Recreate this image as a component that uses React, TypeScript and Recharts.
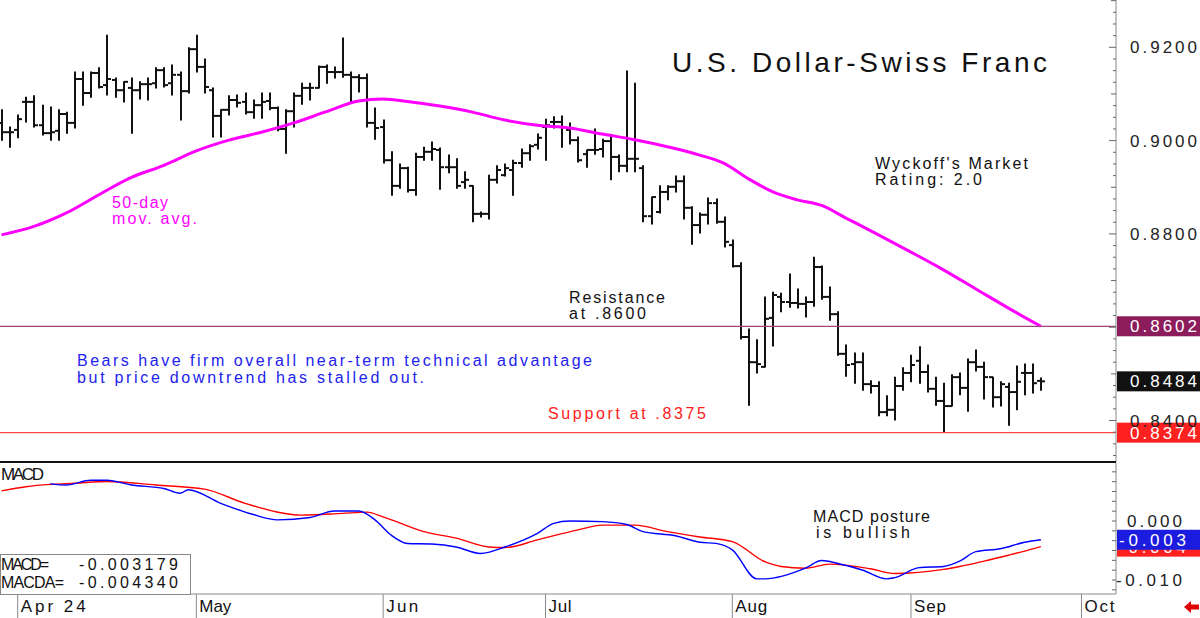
import React from "react";
import { ComposedChart, Bar, Line, XAxis, YAxis, ReferenceLine } from "recharts";

const FONT = "'Liberation Sans', Arial, sans-serif";

// USD/CHF daily bars, end of March to late September 2024 (index = session)
const opens = [
  0.9038, 0.9018, 0.9023, 0.9083, 0.9083, 0.9033, 0.9016, 0.9021, 0.9057, 0.9038,
  0.9132, 0.9102, 0.9145, 0.9119, 0.9130, 0.9108, 0.9113, 0.9108, 0.9121, 0.9123,
  0.9151, 0.9123, 0.9141, 0.9106, 0.9196, 0.9158, 0.9108, 0.9053, 0.9066, 0.9087,
  0.9083, 0.9061, 0.9076, 0.9085, 0.9070, 0.9025, 0.9063, 0.9096, 0.9113, 0.9113,
  0.9158, 0.9147, 0.9147, 0.9141, 0.9136, 0.9134, 0.9038, 0.9029, 0.8958, 0.8903,
  0.8941, 0.8894, 0.8965, 0.8976, 0.8980, 0.8943, 0.8943, 0.8911, 0.8903, 0.8843,
  0.8843, 0.8916, 0.8926, 0.8937, 0.8952, 0.8973, 0.8991, 0.9029, 0.9040, 0.9040,
  0.9023, 0.9001, 0.8971, 0.8980, 0.8982, 0.8999, 0.8965, 0.8946, 0.8961, 0.8941,
  0.8838, 0.8847, 0.8890, 0.8901, 0.8913, 0.8856, 0.8819, 0.8841, 0.8866, 0.8826,
  0.8776, 0.8731, 0.8579, 0.8525, 0.8515, 0.8620, 0.8665, 0.8654, 0.8652, 0.8650,
  0.8654, 0.8729, 0.8665, 0.8628, 0.8543, 0.8521, 0.8525, 0.8478, 0.8474, 0.8418,
  0.8423, 0.8474, 0.8502, 0.8528, 0.8504, 0.8468, 0.8442, 0.8431, 0.8493, 0.8470,
  0.8525, 0.8515, 0.8493, 0.8450, 0.8472, 0.8461, 0.8502, 0.8502, 0.8485,
];
const highs = [
  0.9066, 0.9029, 0.9055, 0.9093, 0.9096, 0.9076, 0.9072, 0.9066, 0.9061, 0.9147,
  0.9147, 0.9147, 0.9156, 0.9226, 0.9134, 0.9126, 0.9134, 0.9126, 0.9134, 0.9156,
  0.9156, 0.9162, 0.9147, 0.9199, 0.9226, 0.9175, 0.9113, 0.9066, 0.9096, 0.9098,
  0.9102, 0.9087, 0.9102, 0.9102, 0.9072, 0.9066, 0.9102, 0.9123, 0.9123, 0.9160,
  0.9162, 0.9158, 0.9220, 0.9147, 0.9141, 0.9143, 0.9070, 0.9044, 0.8976, 0.8950,
  0.8943, 0.8973, 0.8986, 0.8997, 0.8984, 0.8969, 0.8961, 0.8933, 0.8903, 0.8847,
  0.8926, 0.8946, 0.8950, 0.8958, 0.8982, 0.8991, 0.9014, 0.9046, 0.9051, 0.9053,
  0.9038, 0.9008, 0.8980, 0.9025, 0.9003, 0.9012, 0.8969, 0.9149, 0.9123, 0.8946,
  0.8879, 0.8903, 0.8903, 0.8924, 0.8924, 0.8858, 0.8845, 0.8877, 0.8875, 0.8836,
  0.8787, 0.8738, 0.8596, 0.8573, 0.8665, 0.8675, 0.8673, 0.8714, 0.8682, 0.8665,
  0.8750, 0.8731, 0.8686, 0.8633, 0.8562, 0.8545, 0.8545, 0.8485, 0.8483, 0.8453,
  0.8493, 0.8513, 0.8540, 0.8558, 0.8519, 0.8493, 0.8480, 0.8498, 0.8502, 0.8532,
  0.8551, 0.8525, 0.8493, 0.8483, 0.8480, 0.8517, 0.8521, 0.8521, 0.8491,
];
const lows = [
  0.9001, 0.8986, 0.9006, 0.9040, 0.9029, 0.9012, 0.9001, 0.9001, 0.9016, 0.9027,
  0.9076, 0.9093, 0.9113, 0.9098, 0.9093, 0.9083, 0.9016, 0.9089, 0.9087, 0.9113,
  0.9115, 0.9098, 0.9044, 0.9102, 0.9147, 0.9102, 0.9008, 0.9008, 0.9055, 0.9072,
  0.9057, 0.9048, 0.9048, 0.9066, 0.9021, 0.8973, 0.9029, 0.9078, 0.9087, 0.9113,
  0.9123, 0.9134, 0.9136, 0.9083, 0.9104, 0.9029, 0.9003, 0.8952, 0.8883, 0.8898,
  0.8890, 0.8883, 0.8958, 0.8958, 0.8896, 0.8931, 0.8898, 0.8898, 0.8826, 0.8836,
  0.8832, 0.8909, 0.8924, 0.8883, 0.8943, 0.8958, 0.8982, 0.8958, 0.9027, 0.8986,
  0.8993, 0.8954, 0.8943, 0.8971, 0.8965, 0.8916, 0.8933, 0.8933, 0.8933, 0.8826,
  0.8821, 0.8845, 0.8873, 0.8890, 0.8832, 0.8778, 0.8802, 0.8821, 0.8823, 0.8772,
  0.8729, 0.8575, 0.8433, 0.8502, 0.8515, 0.8560, 0.8633, 0.8643, 0.8641, 0.8622,
  0.8645, 0.8660, 0.8615, 0.8540, 0.8495, 0.8480, 0.8465, 0.8459, 0.8410, 0.8410,
  0.8401, 0.8465, 0.8483, 0.8480, 0.8461, 0.8433, 0.8375, 0.8431, 0.8455, 0.8420,
  0.8506, 0.8446, 0.8429, 0.8431, 0.8390, 0.8423, 0.8455, 0.8459, 0.8465,
];
const closes = [
  0.9018, 0.9018, 0.9046, 0.9083, 0.9033, 0.9016, 0.9018, 0.9057, 0.9038, 0.9132,
  0.9102, 0.9145, 0.9115, 0.9132, 0.9108, 0.9126, 0.9108, 0.9121, 0.9121, 0.9151,
  0.9119, 0.9141, 0.9106, 0.9196, 0.9158, 0.9115, 0.9053, 0.9066, 0.9087, 0.9081,
  0.9061, 0.9076, 0.9083, 0.9070, 0.9025, 0.9063, 0.9096, 0.9113, 0.9113, 0.9158,
  0.9147, 0.9147, 0.9141, 0.9136, 0.9134, 0.9038, 0.9027, 0.8958, 0.8903, 0.8941,
  0.8894, 0.8965, 0.8976, 0.8982, 0.8943, 0.8943, 0.8903, 0.8916, 0.8843, 0.8843,
  0.8916, 0.8937, 0.8941, 0.8952, 0.8973, 0.8988, 0.9006, 0.9033, 0.9040, 0.9029,
  0.9001, 0.8958, 0.8980, 0.8980, 0.8999, 0.8965, 0.8946, 0.8961, 0.8961, 0.8838,
  0.8879, 0.8890, 0.8901, 0.8913, 0.8856, 0.8819, 0.8841, 0.8866, 0.8826, 0.8783,
  0.8731, 0.8579, 0.8525, 0.8521, 0.8618, 0.8669, 0.8654, 0.8652, 0.8650, 0.8654,
  0.8729, 0.8665, 0.8628, 0.8543, 0.8519, 0.8525, 0.8478, 0.8474, 0.8418, 0.8423,
  0.8474, 0.8502, 0.8519, 0.8504, 0.8468, 0.8442, 0.8431, 0.8493, 0.8470, 0.8525,
  0.8515, 0.8493, 0.8450, 0.8478, 0.8461, 0.8483, 0.8502, 0.8480, 0.8484,
];

// 50-day moving average, [session, value]
const maPoints: [number, number][] = [
  [0, 0.8798], [4, 0.8816], [8, 0.8845], [12, 0.8884], [16, 0.8921], [20, 0.8947],
  [24, 0.8978], [28, 0.9001], [32, 0.9018], [36, 0.9038], [40, 0.9062], [44, 0.9085],
  [47, 0.9089], [50, 0.9084], [54, 0.9074], [58, 0.9061], [62, 0.9044], [66, 0.9033],
  [70, 0.9027], [74, 0.9014], [78, 0.9002], [82, 0.8987], [86, 0.8969], [89, 0.8951],
  [92, 0.8918], [95, 0.8890], [98, 0.8873], [101, 0.8861], [104, 0.8834], [108, 0.8798],
  [112, 0.8761], [116, 0.8723], [120, 0.8682], [124, 0.8641], [128, 0.8602],
];

// MACD (blue) and its signal average (red), [session, value]
const macdPoints: [number, number][] = [
  [6, 0.0063], [8, 0.0061], [11, 0.0069], [13, 0.0069], [16, 0.0061], [20, 0.0055],
  [22, 0.0047], [23, 0.0053], [27, 0.003], [31, 0.0011], [34, 0.0002], [38, 0.0006],
  [41, 0.0017], [44, 0.0017], [46, 0.0002], [48, -0.0024], [50, -0.0038], [53, -0.0039],
  [56, -0.0044], [59, -0.0055], [62, -0.0044], [66, -0.0021], [68, -0.0004], [70, 0.0],
  [74, -0.0001], [77, -0.0006], [79, -0.0018], [83, -0.0025], [86, -0.0036], [88, -0.0038],
  [90, -0.0049], [93, -0.0098], [94, -0.0098], [99, -0.008], [101, -0.0067], [103, -0.0072],
  [106, -0.0083], [109, -0.0098], [110, -0.0096], [113, -0.0079], [116, -0.0077],
  [118, -0.0068], [120, -0.0052], [123, -0.0047], [126, -0.0036], [128, -0.003179],
];
const signalPoints: [number, number][] = [
  [0, 0.0051], [3, 0.0058], [6, 0.0062], [9, 0.0064], [13, 0.0067], [19, 0.0061],
  [25, 0.0054], [30, 0.003], [37, 0.001], [42, 0.0013], [45, 0.0015], [47, 0.0007],
  [52, -0.0018], [56, -0.0029], [60, -0.0044], [62, -0.0045], [66, -0.0032], [71, -0.0015],
  [74, -0.0007], [78, -0.0007], [82, -0.0018], [86, -0.0027], [90, -0.0035], [94, -0.0069],
  [96, -0.0077], [99, -0.008], [102, -0.0073], [107, -0.0081], [110, -0.0089],
  [116, -0.0082], [118, -0.0077], [121, -0.0068], [124, -0.0058], [126, -0.0051],
  [128, -0.00434],
];

// first session of each month
const monthTicks = [2, 24, 47, 67, 90, 112, 133];
const monthLabels = ["Apr 24", "May", "Jun", "Jul", "Aug", "Sep", "Oct"];
const monthLabelWidths = [65, 32, 32, 23, 32, 32, 30];

// 0.8600 sits under the resistance tag, so it only gets a tick
const priceLabels = [0.92, 0.9, 0.88, 0.84];
const macdLabels = [0, -0.01];

const resistance = 0.8602;
const support = 0.8374;
const lastClose = closes[closes.length - 1];
const macdLast = macdPoints[macdPoints.length - 1][1];
const signalLast = signalPoints[signalPoints.length - 1][1];

const X_DOMAIN: [number, number] = [-0.18, 137.25];
const PRICE_DOMAIN: [number, number] = [0.83111, 0.93014];
const MACD_DOMAIN: [number, number] = [-0.01237, 0.00983];

const priceTicks: number[] = [];
for (let k = 333; k <= 372; k++) priceTicks.push(+(k * 0.0025).toFixed(4));
const macdTicks: number[] = [];
for (let k = -7; k <= 5; k++) macdTicks.push(k / 600);

const maMap = new Map(maPoints);
const macdMap = new Map(macdPoints);
const signalMap = new Map(signalPoints);

const rows = opens.map((o, i) => ({
  i,
  open: o,
  high: highs[i],
  low: lows[i],
  close: closes[i],
  range: [lows[i], highs[i]],
  ma: maMap.get(i) ?? null,
  macd: macdMap.get(i) ?? null,
  signal: signalMap.get(i) ?? null,
}));

function OhlcShape(props: any) {
  const { x, y, width, height, payload } = props;
  if (x == null || !payload) return null;
  const top = Math.min(y, y + height);
  const bottom = Math.max(y, y + height);
  const span = payload.high - payload.low || 1e-9;
  const at = (v: number) => top + ((payload.high - v) / span) * (bottom - top);
  const cx = Math.round(x + width / 2);
  return (
    <g stroke="#111" strokeWidth={2}>
      <line x1={cx} x2={cx} y1={top - 0.5} y2={bottom + 0.5} />
      <line x1={cx - 4} x2={cx} y1={at(payload.open)} y2={at(payload.open)} />
      <line x1={cx} x2={cx + 4} y1={at(payload.close)} y2={at(payload.close)} />
    </g>
  );
}

function PriceTick(props: any) {
  const { x, y, payload } = props;
  const v = payload.value as number;
  const k = Math.round(v / 0.0025);
  const len = k % 8 === 0 ? 7 : k % 4 === 0 ? 5 : 3;
  const labelled = priceLabels.some((p) => Math.abs(p - v) < 1e-6);
  return (
    <g>
      <line x1={x - len} x2={x} y1={y} y2={y} stroke="#666" />
      {labelled && (
        <text x={x + 14} y={y + 6} fontSize={17} fontFamily={FONT} fill="#222" textLength={67} lengthAdjust="spacing">
          {v.toFixed(4)}
        </text>
      )}
    </g>
  );
}

function MacdTick(props: any) {
  const { x, y, payload } = props;
  const v = payload.value as number;
  const labelled = macdLabels.some((p) => Math.abs(p - v) < 1e-9);
  const label = v.toFixed(3);
  const w = label.length * 11 + 3;
  return (
    <g>
      <line x1={x - 4} x2={x} y1={y} y2={y} stroke="#666" />
      {labelled && (
        <text x={x + 69 - w} y={y + 6} fontSize={17} fontFamily={FONT} fill="#222" textLength={w - 3} lengthAdjust="spacing">
          {label}
        </text>
      )}
    </g>
  );
}

function MonthTick(props: any) {
  const { x, y, payload } = props;
  const idx = monthTicks.indexOf(payload.value);
  return (
    <g>
      <line x1={x} x2={x} y1={y} y2={y + 24} stroke="#888" />
      <text x={x + 3} y={y + 18} fontSize={17} fontFamily={FONT} fill="#111" textLength={monthLabelWidths[idx]} lengthAdjust="spacing">
        {monthLabels[idx]}
      </text>
    </g>
  );
}

function ValueTag(props: any) {
  const { viewBox, fill, text, textX = 13 } = props;
  if (!viewBox) return null;
  const x = viewBox.x + viewBox.width + 1;
  const y = viewBox.y;
  return (
    <g>
      <rect x={x} y={y - 10} width={84} height={20} fill={fill} />
      <text x={x + textX} y={y + 6} fontSize={17} fontFamily={FONT} fill="#fff" textLength={67} lengthAdjust="spacing">
        {text}
      </text>
    </g>
  );
}

const notes = [
  { x: 672, y: 72, size: 28, len: 375, fill: "#111", text: "U.S. Dollar-Swiss Franc" },
  { x: 875, y: 169, size: 16, len: 153, fill: "#111", text: "Wyckoff's Market" },
  { x: 875, y: 185, size: 16, len: 107, fill: "#111", text: "Rating: 2.0" },
  { x: 112, y: 208, size: 16, len: 56, fill: "#ff00ff", text: "50-day" },
  { x: 112, y: 224, size: 16, len: 85, fill: "#ff00ff", text: "mov. avg." },
  { x: 569, y: 303, size: 16, len: 96, fill: "#111", text: "Resistance" },
  { x: 569, y: 319, size: 16, len: 77, fill: "#111", text: "at .8600" },
  { x: 77, y: 366, size: 16, len: 515, fill: "#2222ee", text: "Bears have firm overall near-term technical advantage" },
  { x: 77, y: 383, size: 16, len: 347, fill: "#2222ee", text: "but price downtrend has stalled out." },
  { x: 548, y: 419, size: 16, len: 158, fill: "#ff2020", text: "Support at .8375" },
  { x: 813, y: 522, size: 16, len: 117, fill: "#111", text: "MACD posture" },
  { x: 816, y: 538, size: 16, len: 94, fill: "#111", text: "is bullish" },
  { x: 1, y: 480, size: 17, len: 43, fill: "#111", text: "MACD" },
  { x: 1, y: 570, size: 16, len: 48, fill: "#111", text: "MACD=" },
  { x: 79, y: 570, size: 16, len: 99, fill: "#111", text: macdLast.toFixed(6) },
  { x: 1, y: 588, size: 16, len: 63, fill: "#111", text: "MACDA=" },
  { x: 79, y: 588, size: 16, len: 99, fill: "#111", text: signalLast.toFixed(6) },
];

export default function App() {
  return (
    <div style={{ position: "absolute", left: 0, top: 0, width: 1200, height: 618, background: "#fff", overflow: "hidden" }}>
      <div style={{ position: "absolute", left: 0, top: 0 }}>
        <ComposedChart width={1200} height={462} data={rows} margin={{ top: 0, right: 0, bottom: 0, left: 0 }}>
          <XAxis type="number" dataKey="i" domain={X_DOMAIN} allowDataOverflow hide />
          <YAxis
            orientation="right"
            width={84}
            domain={PRICE_DOMAIN}
            allowDataOverflow
            ticks={priceTicks}
            interval={0}
            tick={<PriceTick />}
            tickLine={false}
            tickSize={0}
            tickMargin={0}
            axisLine={{ stroke: "#888" }}
          />
          <Line dataKey="ma" type="monotone" stroke="#ff00ff" strokeWidth={3} dot={false} activeDot={false} connectNulls isAnimationActive={false} />
          <Bar dataKey="range" barSize={7} shape={(p: any) => <OhlcShape {...p} />} isAnimationActive={false} />
          <ReferenceLine y={resistance} stroke="#a3437d" strokeWidth={1.2} label={<ValueTag fill="#8c1c5c" text={resistance.toFixed(4)} />} />
          <ReferenceLine y={lastClose} stroke="none" label={<ValueTag fill="#111" text={lastClose.toFixed(4)} />} />
          <ReferenceLine y={support} stroke="#ff4848" strokeWidth={1.2} label={<ValueTag fill="#ff2020" text={support.toFixed(4)} />} />
        </ComposedChart>
      </div>
      <div style={{ position: "absolute", left: 0, top: 463 }}>
        <ComposedChart width={1200} height={155} data={rows} margin={{ top: 0, right: 0, bottom: 0, left: 0 }}>
          <XAxis
            type="number"
            dataKey="i"
            domain={X_DOMAIN}
            allowDataOverflow
            ticks={monthTicks}
            interval={0}
            height={24}
            tick={<MonthTick />}
            tickLine={false}
            tickSize={0}
            tickMargin={0}
            axisLine={{ stroke: "#888" }}
          />
          <YAxis
            orientation="right"
            width={84}
            domain={MACD_DOMAIN}
            allowDataOverflow
            ticks={macdTicks}
            interval={0}
            tick={<MacdTick />}
            tickLine={false}
            tickSize={0}
            tickMargin={0}
            axisLine={{ stroke: "#888" }}
          />
          <Line dataKey="signal" type="monotone" stroke="#ff0000" strokeWidth={1.4} dot={false} activeDot={false} connectNulls isAnimationActive={false} />
          <Line dataKey="macd" type="monotone" stroke="#0000ff" strokeWidth={1.4} dot={false} activeDot={false} connectNulls isAnimationActive={false} />
          <ReferenceLine y={signalLast} stroke="none" label={<ValueTag fill="#ff2020" text={signalLast.toFixed(3)} textX={2} />} />
          <ReferenceLine y={macdLast} stroke="none" label={<ValueTag fill="#1c1ce0" text={macdLast.toFixed(3)} textX={2} />} />
        </ComposedChart>
      </div>
      <svg width={1200} height={618} style={{ position: "absolute", left: 0, top: 0, pointerEvents: "none" }}>
        <rect x={0} y={461} width={1116} height={2} fill="#111" />
        <rect x={0.5} y={554.5} width={190} height={40} fill="#fff" stroke="#888" />
        {notes.map((n) => (
          <text key={n.text} x={n.x} y={n.y} fontSize={n.size} fontFamily={FONT} fill={n.fill} textLength={n.len} lengthAdjust="spacing">
            {n.text}
          </text>
        ))}
        <polygon points="1184,607 1191,601 1191,604.5 1199,604.5 1199,609.5 1191,609.5 1191,613" fill="#e00000" />
      </svg>
    </div>
  );
}
